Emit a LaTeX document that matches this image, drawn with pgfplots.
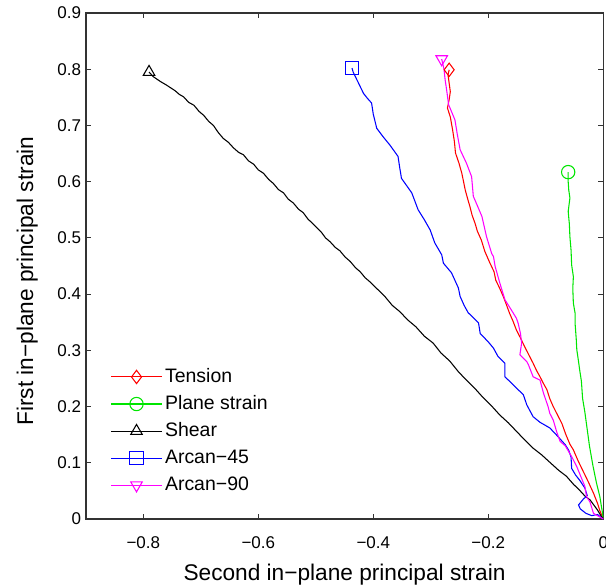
\documentclass[border=0pt]{standalone}
\usepackage{pgfplots}
\pgfplotsset{compat=1.18}
\usepackage{fontspec}
\setmainfont{Liberation Sans}
\definecolor{mred}{rgb}{1,0,0}
\definecolor{mgreen}{rgb}{0,0.9,0}
\definecolor{mblue}{rgb}{0,0,1}
\definecolor{mmag}{rgb}{1,0,1}
\begin{document}
\begin{tikzpicture}
\path[use as bounding box] (0,0) rectangle (454.5pt,440.25pt);
\begin{axis}[
  at={(64.35pt,51pt)}, anchor=south west,
  scale only axis, width=388.1pt, height=379.5pt,
  xmin=-0.9, xmax=0, ymin=0, ymax=0.9,
  xtick={-0.8,-0.6,-0.4,-0.2,0},
  xticklabels={−0.8,−0.6,−0.4,−0.2,0},
  ytick={0,0.1,0.2,0.3,0.4,0.5,0.6,0.7,0.8,0.9},
  yticklabels={0,0.1,0.2,0.3,0.4,0.5,0.6,0.7,0.8,0.9},
  tick align=inside, major tick length=3.75pt,
  tick style={black!80, line width=0.8pt},
  axis line style={black!80, line width=1.1pt},
  ticklabel style={font=\fontsize{12.75pt}{14pt}\selectfont},
  xticklabel style={yshift=-10pt},
  xlabel={Second in−plane principal strain},
  ylabel={First in−plane principal strain},
  every axis x label/.style={at={(axis description cs:0.5,-0.1206)}, anchor=base,
    font=\fontsize{17pt}{20pt}\selectfont},
  every axis y label/.style={at={(axis description cs:-0.102,0.47)}, anchor=base, rotate=90,
    font=\fontsize{17pt}{20pt}\selectfont},
  legend style={at={(axis description cs:0.0475,0.308)}, anchor=north west, draw=none, fill=none,
    inner sep=0pt, row sep=0pt, font=\fontsize{14.6pt}{16pt}\selectfont,
    nodes={inner sep=2pt, text height=12.3pt, text depth=4pt}},
  legend cell align=left,
  legend image code/.code={\draw[#1,mark indices={2}] plot coordinates {(0pt,0pt) (19pt,0pt) (38pt,0pt)};},
  every axis plot/.append style={line width=0.8pt, mark indices={1}, mark size=5pt, mark options={solid,fill=none}},
]
% Tension
\addplot[mred, mark=diamond] coordinates {
(-0.268,0.799) (-0.270,0.790) (-0.266,0.760) (-0.268,0.746) (-0.271,0.731) (-0.266,0.715)
(-0.262,0.692) (-0.259,0.672) (-0.257,0.651) (-0.251,0.633) (-0.246,0.615) (-0.243,0.600)
(-0.240,0.585) (-0.236,0.570) (-0.232,0.556) (-0.228,0.540) (-0.223,0.526) (-0.219,0.512)
(-0.212,0.496) (-0.206,0.476) (-0.197,0.455) (-0.190,0.440) (-0.187,0.425) (-0.180,0.410) (-0.174,0.396) (-0.168,0.380) (-0.163,0.366)
(-0.157,0.352) (-0.151,0.336) (-0.144,0.322) (-0.137,0.307) (-0.129,0.291) (-0.122,0.277) (-0.116,0.264) (-0.110,0.253) (-0.104,0.241) (-0.098,0.230) (-0.093,0.214) (-0.087,0.200)
(-0.080,0.186) (-0.072,0.170) (-0.065,0.150) (-0.058,0.133) (-0.052,0.123) (-0.044,0.104) (-0.035,0.085) (-0.026,0.066) (-0.017,0.046) (-0.010,0.028) (-0.006,0.015) (0,0)
};
\addlegendentry{Tension}
% Plane strain
\addplot[mgreen, mark=o] coordinates {
(-0.061,0.617) (-0.061,0.600) (-0.060,0.585) (-0.058,0.571) (-0.061,0.547) (-0.059,0.525)
(-0.058,0.502) (-0.056,0.478) (-0.055,0.452) (-0.052,0.431) (-0.053,0.410) (-0.052,0.384)
(-0.049,0.366) (-0.049,0.348) (-0.047,0.320) (-0.046,0.301) (-0.043,0.280) (-0.041,0.265)
(-0.038,0.245) (-0.036,0.215) (-0.032,0.190) (-0.028,0.160) (-0.024,0.130) (-0.018,0.095)
(-0.012,0.065) (-0.006,0.040) (-0.002,0.015) (0,0)
};
\addlegendentry{Plane strain}
% Shear
\addplot[black, mark=triangle] coordinates {
(-0.790,0.795) (-0.783,0.787) (-0.770,0.778) (-0.760,0.772) (-0.745,0.762) (-0.737,0.755) (-0.730,0.751) (-0.721,0.741) (-0.712,0.736)
(-0.703,0.725) (-0.695,0.718) (-0.686,0.707) (-0.678,0.700) (-0.670,0.688) (-0.661,0.677) (-0.652,0.670) (-0.643,0.660) (-0.634,0.652) (-0.626,0.648) (-0.617,0.637) (-0.608,0.631)
(-0.600,0.621) (-0.591,0.615) (-0.582,0.604) (-0.574,0.597) (-0.565,0.586) (-0.556,0.580) (-0.548,0.569) (-0.539,0.562) (-0.530,0.551) (-0.522,0.545) (-0.514,0.534) (-0.507,0.527)
(-0.499,0.519) (-0.491,0.511) (-0.483,0.500) (-0.475,0.493) (-0.466,0.483) (-0.458,0.477) (-0.449,0.466) (-0.440,0.458) (-0.431,0.447) (-0.423,0.440) (-0.414,0.429) (-0.406,0.422)
(-0.393,0.409) (-0.380,0.396) (-0.367,0.380) (-0.354,0.369) (-0.340,0.354) (-0.326,0.342) (-0.311,0.325) (-0.296,0.313) (-0.282,0.295) (-0.267,0.281) (-0.252,0.262) (-0.238,0.247)
(-0.224,0.233) (-0.209,0.216) (-0.195,0.202) (-0.180,0.185) (-0.165,0.171) (-0.151,0.156) (-0.136,0.140) (-0.122,0.126) (-0.107,0.114) (-0.092,0.100) (-0.078,0.087) (-0.064,0.076)
(-0.052,0.062) (-0.041,0.051) (-0.032,0.041) (-0.023,0.034) (-0.010,0.016) (-0.003,0.004) (0,0)
};
\addlegendentry{Shear}
% Arcan-45
\addplot[mblue, mark=square] coordinates {
(-0.437,0.802) (-0.435,0.795) (-0.426,0.776) (-0.417,0.757) (-0.410,0.748) (-0.403,0.740)
(-0.400,0.720) (-0.394,0.695) (-0.383,0.680) (-0.371,0.665) (-0.357,0.645) (-0.354,0.625)
(-0.351,0.606) (-0.342,0.593) (-0.333,0.580) (-0.322,0.550) (-0.311,0.532) (-0.301,0.514)
(-0.293,0.491) (-0.281,0.470) (-0.278,0.455) (-0.264,0.438) (-0.256,0.420) (-0.252,0.411)
(-0.249,0.396) (-0.242,0.380) (-0.235,0.367) (-0.217,0.349) (-0.214,0.330) (-0.200,0.315)
(-0.191,0.304) (-0.183,0.289) (-0.171,0.277) (-0.171,0.253) (-0.154,0.236) (-0.139,0.221)
(-0.133,0.203) (-0.122,0.182) (-0.110,0.172) (-0.093,0.162) (-0.080,0.148) (-0.066,0.132)
(-0.060,0.122) (-0.056,0.110) (-0.055,0.090) (-0.048,0.078) (-0.041,0.069) (-0.032,0.055)
(-0.028,0.042) (-0.035,0.035) (-0.043,0.025) (-0.040,0.018) (-0.030,0.010) (-0.020,0.006)
(-0.010,0.008) (-0.003,0.002) (0,0)
};
\addlegendentry{Arcan−45}
% Arcan-90
\addplot[mmag, mark=triangle, mark options={rotate=180}] coordinates {
(-0.281,0.818) (-0.277,0.800) (-0.275,0.781) (-0.272,0.760) (-0.269,0.737) (-0.258,0.710)
(-0.254,0.685) (-0.249,0.657) (-0.238,0.633) (-0.229,0.609) (-0.226,0.574) (-0.218,0.555)
(-0.211,0.538) (-0.203,0.502) (-0.194,0.472) (-0.191,0.467) (-0.188,0.449) (-0.180,0.420)
(-0.171,0.390) (-0.160,0.372) (-0.151,0.357) (-0.148,0.348) (-0.144,0.330) (-0.142,0.313)
(-0.145,0.292) (-0.133,0.280) (-0.130,0.274) (-0.122,0.253) (-0.110,0.247) (-0.104,0.224)
(-0.096,0.200) (-0.093,0.188) (-0.087,0.176) (-0.081,0.155) (-0.075,0.138) (-0.066,0.130)
(-0.055,0.111) (-0.046,0.093) (-0.032,0.058) (-0.029,0.040) (-0.023,0.030) (-0.017,0.010) (0,0)
};
\addlegendentry{Arcan−90}
\end{axis}
\end{tikzpicture}
\end{document}
